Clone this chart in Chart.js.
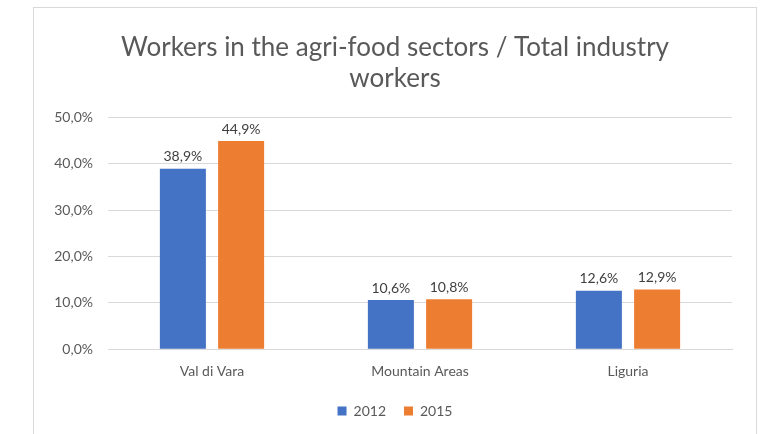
<!DOCTYPE html>
<html>
<head>
<meta charset="utf-8">
<script src="https://cdn.jsdelivr.net/npm/chart.js@4.4.1/dist/chart.umd.min.js"></script>
<style>
    html, body { margin: 0; padding: 0; background: #fff; overflow: hidden; }
    #frame {
        position: absolute; left: 33px; top: 7px;
        width: 724px; height: 440px;
        border: 1px solid #d9d9d9; box-sizing: border-box;
    }
    #wrap { position: absolute; left: 0; top: 0; width: 722px; height: 427px; }
</style>
</head>
<body>
<div id="frame"><div id="wrap"><canvas id="chart"></canvas></div></div>
<script>
// --- Data ---
const categories = ['Val di Vara', 'Mountain Areas', 'Liguria'];
const seriesNames = ['2012', '2015'];
const values2012 = [38.9, 10.6, 12.6];
const values2015 = [44.9, 10.8, 12.9];
const yTicks = [0, 10, 20, 30, 40, 50];

const fmt = v => v.toFixed(1).replace('.', ',') + '%';

// --- Value labels above bars ---
const barLabels = {
    id: 'barLabels',
    afterDatasetsDraw(chart) {
        const ctx = chart.ctx;
        ctx.save();
        ctx.font = '14px Lato';
        ctx.fillStyle = '#404040';
        ctx.textAlign = 'center';
        ctx.textBaseline = 'bottom';
        chart.data.datasets.forEach((ds, i) => {
            chart.getDatasetMeta(i).data.forEach((bar, j) => {
                ctx.fillText(fmt(ds.data[j]), bar.x, bar.y - 5);
            });
        });
        ctx.restore();
    }
};

const ctx = document.getElementById('chart').getContext('2d');
const chart = new Chart(ctx, {
    type: 'bar',
    data: {
        labels: categories,
        datasets: [{
            label: seriesNames[0],
            data: values2012,
            backgroundColor: '#4472c4'
        }, {
            label: seriesNames[1],
            data: values2015,
            backgroundColor: '#ed7d31'
        }]
    },
    options: {
        responsive: true,
        maintainAspectRatio: false,
        animation: false,
        categoryPercentage: 0.56,
        barPercentage: 0.79,
        layout: { padding: { left: 0, right: 0, top: 24, bottom: 7 } },
        plugins: {
            title: {
                display: true,
                text: ['Workers in the agri-food sectors / Total industry', 'workers'],
                font: { family: 'Lato', size: 26, weight: 'normal', lineHeight: 1.2 },
                color: '#595959',
                padding: { top: 0, bottom: 23 }
            },
            legend: {
                position: 'bottom',
                labels: {
                    boxWidth: 9, boxHeight: 9,
                    font: { family: 'Lato', size: 14 },
                    color: '#595959',
                    padding: 18
                }
            },
            tooltip: { enabled: false }
        },
        scales: {
            x: {
                grid: { display: false },
                border: { color: '#d9d9d9' },
                ticks: { font: { family: 'Lato', size: 14 }, color: '#595959', padding: 6 }
            },
            y: {
                min: 0,
                max: 50,
                afterBuildTicks: s => { s.ticks = yTicks.map(v => ({ value: v })); },
                afterFit: s => { s.width = 74; },
                grid: { color: '#d9d9d9', drawTicks: false },
                border: { display: false },
                ticks: {
                    font: { family: 'Lato', size: 14 },
                    color: '#595959',
                    padding: 15,
                    callback: v => fmt(v)
                }
            },
            // empty right-hand margin so the title and legend stay centred on the frame
            spacer: {
                type: 'linear',
                position: 'right',
                afterFit: s => { s.width = 24; },
                grid: { display: false },
                border: { display: false },
                ticks: { display: false }
            }
        }
    },
    plugins: [barLabels]
});
</script>
</body>
</html>
